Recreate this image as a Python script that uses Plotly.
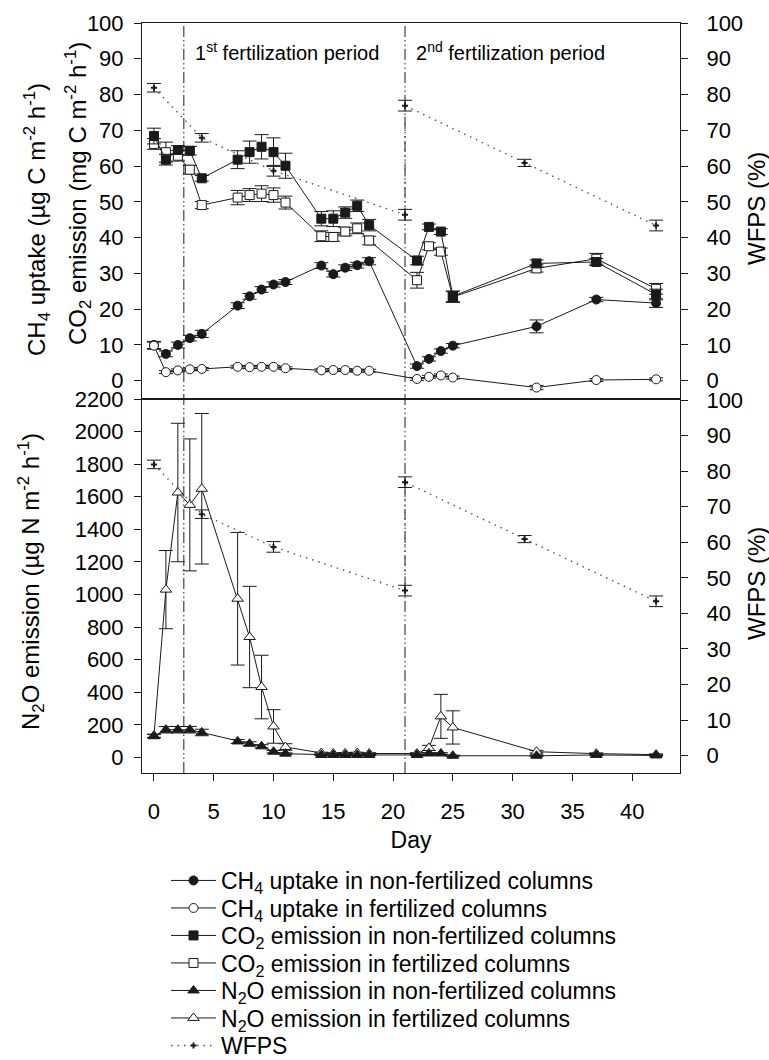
import plotly.graph_objects as go

# ---------------- data ----------------
DAYS = [0, 1, 2, 3, 4, 7, 8, 9, 10, 11, 14, 15, 16, 17, 18, 22, 23, 24, 25, 32, 37, 42]

CH4_NONFERT = [10.0, 7.5, 10.0, 11.9, 13.1, 21.0, 23.6, 25.5, 26.9, 27.6, 32.2, 29.8, 31.6, 32.3, 33.4,
               4.1, 6.1, 8.3, 9.8, 15.2, 22.7, 21.7]
CH4_NONFERT_ERR = [1.0, 0.8, 0.8, 0.8, 1.0, 0.8, 0.8, 0.8, 0.7, 0.7, 0.8, 0.8, 0.8, 0.8, 1.0,
                   0.6, 0.6, 0.6, 0.6, 1.8, 0.6, 1.2]
CH4_FERT = [9.8, 2.4, 2.9, 3.2, 3.3, 3.9, 3.8, 3.9, 3.9, 3.5, 2.9, 3.0, 3.0, 2.8, 2.8,
            0.5, 1.1, 1.5, 0.9, -1.9, 0.2, 0.4]
CH4_FERT_ERR = [1.0, 0.4, 0.4, 0.4, 0.4, 0.4, 0.4, 0.4, 0.4, 0.4, 0.4, 0.4, 0.4, 0.4, 0.4,
                0.4, 0.4, 0.4, 0.4, 0.6, 0.4, 0.4]
CO2_NONFERT = [68.4, 61.8, 64.5, 64.3, 56.6, 61.8, 63.9, 65.4, 63.9, 60.1, 45.3, 45.3, 47.0, 48.9, 43.5,
               33.6, 43.0, 41.7, 23.6, 32.8, 33.2, 24.1]
CO2_NONFERT_ERR = [2.2, 1.5, 1.2, 1.2, 0.8, 2.5, 3.1, 3.4, 4.0, 3.5, 2.0, 2.2, 1.6, 1.6, 1.6,
                   1.2, 0.8, 0.8, 1.5, 1.0, 1.0, 1.5]
CO2_FERT = [66.2, 63.9, 62.9, 59.0, 49.1, 51.2, 51.9, 52.3, 51.9, 49.8, 40.4, 40.2, 41.7, 42.6, 39.2,
            28.1, 37.6, 36.1, 23.4, 31.4, 34.1, 25.7]
CO2_FERT_ERR = [1.5, 2.8, 1.5, 1.2, 1.0, 2.0, 1.8, 2.2, 2.0, 1.8, 1.5, 1.2, 1.2, 1.5, 1.2,
                2.2, 1.0, 1.0, 1.5, 1.0, 1.5, 1.5]

N2O_NONFERT = [130, 170, 170, 170, 153, 98, 84, 68, 35, 23, 15, 15, 15, 15, 15,
               15, 24, 24, 10, 10, 15, 12]
N2O_NONFERT_ERR = [10, 20, 20, 20, 20, 12, 12, 10, 8, 5, 4, 4, 4, 4, 4,
                   4, 5, 5, 4, 4, 4, 4]
N2O_FERT = [133, 1030, 1626, 1550, 1649, 974, 739, 432, 190, 64, 27, 24, 25, 27, 24,
            24, 58, 252, 184, 35, 23, 17]
N2O_FERT_ERR = [10, 240, 425, 405, 462, 407, 311, 195, 103, 20, 5, 5, 5, 5, 5,
                5, 16, 135, 102, 8, 5, 5]

WFPS_DAYS = [0, 4, 10, 21, 21, 31, 42]
WFPS = [81.9, 67.9, 58.7, 46.4, 76.9, 60.9, 43.4]
WFPS_ERR = [1.2, 1.2, 1.5, 1.5, 1.5, 1.0, 1.5]

FERT_DAYS = [2.5, 21]
FERT_LABELS = ["1<sup>st</sup> fertilization period", "2<sup>nd</sup> fertilization period"]

X_TICKS = [0, 5, 10, 15, 20, 25, 30, 35, 40]
TOP_TICKS = [0, 10, 20, 30, 40, 50, 60, 70, 80, 90, 100]
N2O_TICKS = [0, 200, 400, 600, 800, 1000, 1200, 1400, 1600, 1800, 2000, 2200]
WFPS_TICKS = [0, 10, 20, 30, 40, 50, 60, 70, 80, 90, 100]

# ---------------- layout geometry ----------------
W, H = 769, 1060
L, R, T, B = 142, 680, 23, 773
MID = 399
SPLIT = (B - MID) / (B - T)


def px_x(p):
    return (p - L) / (R - L)


def px_y(p):
    return (B - p) / (B - T)


FONT = "Arial, 'Liberation Sans', sans-serif"
INK = "#1a1a1a"

fig = go.Figure()


def err(vals):
    return dict(type="data", array=vals, visible=True, color=INK, thickness=1, width=7)


def series(x, y, e, name, symbol, fill, size, xa, ya, legend, showlegend=True):
    return go.Scatter(
        x=x, y=y, name=name, mode="lines+markers",
        xaxis=xa, yaxis=ya, legend=legend, showlegend=showlegend,
        line=dict(color=INK, width=1),
        marker=dict(symbol=symbol, size=size, color=fill, line=dict(color=INK, width=1)),
        error_y=err(e),
    )


# top panel
fig.add_trace(series(DAYS, CO2_FERT, CO2_FERT_ERR, "CO<sub>2</sub> emission in fertilized columns",
                     "square", "white", 9, "x2", "y", "legend4"))
fig.add_trace(series(DAYS, CO2_NONFERT, CO2_NONFERT_ERR, "CO<sub>2</sub> emission in non-fertilized columns",
                     "square", INK, 9, "x2", "y", "legend3"))
fig.add_trace(series(DAYS, CH4_NONFERT, CH4_NONFERT_ERR, "CH<sub>4</sub> uptake in non-fertilized columns",
                     "circle", INK, 9, "x2", "y", "legend"))
fig.add_trace(series(DAYS, CH4_FERT, CH4_FERT_ERR, "CH<sub>4</sub> uptake in fertilized columns",
                     "circle", "white", 9, "x2", "y", "legend2"))
wfps_line = dict(color="#555555", width=1.4, dash="1.5px,5px")
fig.add_trace(go.Scatter(
    x=WFPS_DAYS, y=WFPS, name="WFPS", mode="lines+markers", xaxis="x2", yaxis="y2", legend="legend7",
    line=wfps_line, marker=dict(symbol="cross", size=5, color=INK),
    error_y=err(WFPS_ERR)))

# bottom panel
fig.add_trace(series(DAYS, N2O_FERT, N2O_FERT_ERR, "N<sub>2</sub>O emission in fertilized columns",
                     "triangle-up", "white", 10, "x", "y3", "legend6"))
fig.add_trace(series(DAYS, N2O_NONFERT, N2O_NONFERT_ERR, "N<sub>2</sub>O emission in non-fertilized columns",
                     "triangle-up", INK, 10, "x", "y3", "legend5"))
fig.add_trace(go.Scatter(
    x=WFPS_DAYS, y=WFPS, name="WFPS", mode="lines+markers", xaxis="x", yaxis="y4", legend="legend7",
    showlegend=False, line=wfps_line, marker=dict(symbol="cross", size=5, color=INK),
    error_y=err(WFPS_ERR)))

# fertilization markers
for d in FERT_DAYS:
    fig.add_shape(type="line", xref="x", yref="paper", x0=d, x1=d, y0=0, y1=1,
                  line=dict(color=INK, width=1, dash="11px,3px,1.5px,3px,1.5px,3px"), layer="below")

ax = dict(showline=True, linecolor=INK, linewidth=1, ticks="outside", ticklen=7, tickcolor=INK,
          tickwidth=1, showgrid=False, zeroline=False, tickfont=dict(size=22, color="black", family=FONT))

fig.update_layout(
    width=W, height=H, autosize=False,
    margin=dict(l=L, r=W - R, t=T, b=H - B, autoexpand=False),
    paper_bgcolor="white", plot_bgcolor="white",
    font=dict(family=FONT, color="black"),
    xaxis=dict(ax, domain=[0, 1], anchor="y3", range=[-1, 44], tickvals=X_TICKS, mirror=True,
               title=dict(text="Day", font=dict(size=23), standoff=8), ticklabelstandoff=12),
    xaxis2=dict(ax, domain=[0, 1], anchor="y", matches="x", range=[-1, 44], showticklabels=False,
                ticks="", mirror=True),
    yaxis=dict(ax, domain=[SPLIT, 1], anchor="x2", range=[-5.1, 100], tickvals=TOP_TICKS,
               ticklabelstandoff=6),
    yaxis2=dict(ax, overlaying="y", side="right", anchor="x2", range=[-5.1, 100], tickvals=WFPS_TICKS,
                ticklabelstandoff=14),
    yaxis3=dict(ax, domain=[0, SPLIT], anchor="x", range=[-95.7, 2200], tickvals=N2O_TICKS,
                ticklabelstandoff=6),
    yaxis4=dict(ax, overlaying="y3", side="right", anchor="x", range=[-4.9, 100.3], tickvals=WFPS_TICKS,
                ticklabelstandoff=14),
)

# legends (one per row)
LEG_ROWS = [880.5, 908, 935.5, 963, 990.5, 1018, 1045.5]
leg_names = ["legend", "legend2", "legend3", "legend4", "legend5", "legend6", "legend7"]
for nm, row in zip(leg_names, LEG_ROWS):
    fig.update_layout({nm: dict(x=px_x(166), y=px_y(row), xanchor="left", yanchor="middle",
                                itemwidth=45,
                                font=dict(size=23, family=FONT, color="black"),
                                bgcolor="rgba(0,0,0,0)", borderwidth=0)})

# axis titles as annotations
ann = []
ann.append(dict(text="CH<sub>4</sub> uptake (µg C m<sup>-2</sup> h<sup>-1</sup>)", x=px_x(37), y=px_y(220)))
ann.append(dict(text="CO<sub>2</sub> emission (mg C m<sup>-2</sup> h<sup>-1</sup>)", x=px_x(78), y=px_y(194)))
ann.append(dict(text="N<sub>2</sub>O emission (µg N m<sup>-2</sup> h<sup>-1</sup>)", x=px_x(31), y=px_y(582)))
ann.append(dict(text="WFPS (%)", x=px_x(756), y=px_y(209)))
ann.append(dict(text="WFPS (%)", x=px_x(756), y=px_y(584)))
for a in ann:
    fig.add_annotation(xref="paper", yref="paper", textangle=-90, showarrow=False,
                       xanchor="center", yanchor="middle", font=dict(size=24, family=FONT, color="black"), **a)

for d, lab in zip(FERT_DAYS, FERT_LABELS):
    fig.add_annotation(xref="x2", yref="paper", x=d, y=px_y(52), text=lab, showarrow=False,
                       xanchor="left", yanchor="middle", xshift=9,
                       font=dict(size=20, family=FONT, color="black"))

fig.write_html("out.html")
